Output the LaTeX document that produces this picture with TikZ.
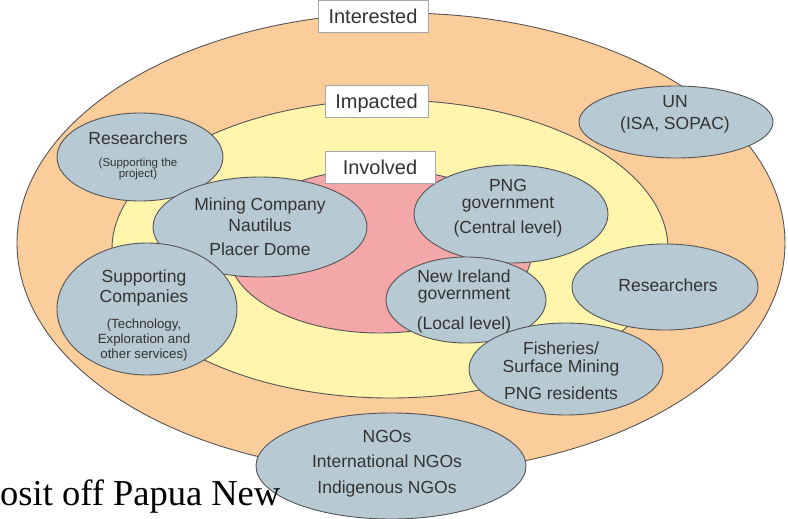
\documentclass[tikz,border=0pt]{standalone}
\usepackage{fontspec}
\setmainfont{Liberation Sans}
\newfontfamily\bodyserif{Liberation Serif}
\usetikzlibrary{shapes.geometric,shadows}

\definecolor{ringout}{HTML}{FBCD9A}
\definecolor{ringmid}{HTML}{FFF5AD}
\definecolor{ringin}{HTML}{F4A7A9}
\definecolor{blob}{HTML}{B7C9D3}
\definecolor{edge}{HTML}{555555}
\definecolor{ink}{HTML}{333333}

\begin{document}
\begin{tikzpicture}[x=1pt,y=-1pt,
  ring/.style={draw=edge, line width=0.9pt},
  party/.style={ellipse, draw=edge, line width=0.9pt, fill=blob, inner sep=0pt},
  tagbox/.style={rectangle, draw=gray!70, fill=white, line width=0.8pt,
    minimum height=32pt, inner sep=0pt, text height=14.5pt, text depth=0pt,
    font=\fontsize{20}{24}\selectfont, text=ink,
    drop shadow={shadow xshift=1.2pt, shadow yshift=-1.2pt, fill=black!35, opacity=1}},
  big/.style={anchor=base, text=ink, inner sep=0pt, font=\fontsize{17.5}{20}\selectfont},
  mid/.style={anchor=base, text=ink, inner sep=0pt, font=\fontsize{13.3}{15}\selectfont},
  small/.style={anchor=base, text=ink, inner sep=0pt, font=\fontsize{11.5}{13}\selectfont},
]
\useasboundingbox (0,0) rectangle (788,519);

% stakeholder rings
\draw[ring, fill=ringout] (401,243) ellipse [x radius=384pt, y radius=230pt];
\draw[ring, fill=ringmid] (390,249) ellipse [x radius=278pt, y radius=149pt];
\draw[ring, fill=ringin]  (380,251) ellipse [x radius=152pt, y radius=82pt];

% stakeholder groups
\node[party, minimum width=166pt, minimum height=88pt]  (resL) at (140,157) {};
\node[party, minimum width=214pt, minimum height=100pt] (mine) at (260,227) {};
\node[party, minimum width=180pt, minimum height=132pt] (supp) at (147,309) {};
\node[party, minimum width=194pt, minimum height=98pt]  (pngc) at (511,214) {};
\node[party, minimum width=160pt, minimum height=86pt]  (nire) at (466,300) {};
\node[party, minimum width=186pt, minimum height=86pt]  (resR) at (665,287) {};
\node[party, minimum width=194pt, minimum height=92pt]  (fish) at (566,369) {};
\node[party, minimum width=194pt, minimum height=72pt]  (un)   at (676,122) {};
\node[party, minimum width=270pt, minimum height=106pt] (ngo)  at (391,466) {};

% group texts
\node[big]   (resLa) at (138,144) {Researchers};
\node[small] (resLb) at (138,166) {(Supporting the};
\node[small] (resLc) at (138,177) {project)};

\node[big] (minea) at (260,210) {Mining Company};
\node[big] (mineb) at (260,231) {Nautilus};
\node[big] (minec) at (260,255) {Placer Dome};

\node[big] (suppa) at (144,282) {Supporting};
\node[big] (suppb) at (144,302) {Companies};
\node[mid] (suppc) at (144,328) {(Technology,};
\node[mid] (suppd) at (144,343) {Exploration and};
\node[mid] (suppe) at (144,358) {other services)};

\node[big] (pngca) at (508,191.5) {PNG};
\node[big] (pngcb) at (508,208) {government};
\node[big] (pngcc) at (508,233) {(Central level)};

\node[big] (nirea) at (464,282.5) {New Ireland};
\node[big] (nireb) at (464,299) {government};
\node[big] (nirec) at (464,329) {(Local level)};

\node[big] (resRa) at (668,291) {Researchers};

\node[big] (fisha) at (561,354) {Fisheries/};
\node[big] (fishb) at (561,372) {Surface Mining};
\node[big] (fishc) at (561,399) {PNG residents};

\node[big] (una) at (675,108) {UN};
\node[big] (unb) at (675,129) {(ISA, SOPAC)};

\node[big] (ngoa) at (387,442) {NGOs};
\node[big] (ngob) at (387,467) {International NGOs};
\node[big] (ngoc) at (387,493) {Indigenous NGOs};

% ring labels
\node[tagbox, minimum width=110pt] (interested) at (373,16)    {Interested};
\node[tagbox, minimum width=103pt] (impacted)   at (376.5,101) {Impacted};
\node[tagbox, minimum width=110pt] (involved)   at (380,167)   {Involved};

% running text of the page
\node[anchor=base west, inner sep=0pt, font=\bodyserif\fontsize{36.5}{40}\selectfont]
  (pagetext) at (0,505) {osit off Papua New};
\end{tikzpicture}
\end{document}
